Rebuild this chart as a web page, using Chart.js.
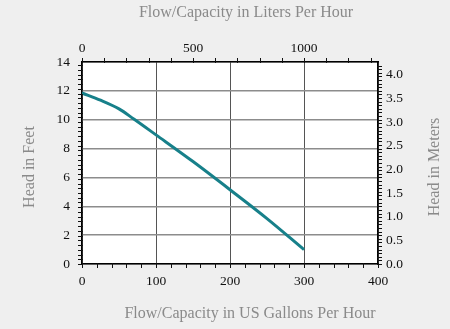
<!DOCTYPE html>
<html>
<head>
<meta charset="utf-8">
<script src="https://cdn.jsdelivr.net/npm/chart.js@4"></script>
<style>
    html, body { margin: 0; padding: 0; background: #efefef; }
    #wrap { width: 450px; height: 329px; position: relative; }
</style>
</head>
<body>
<div id="wrap"><canvas id="pumpChart"></canvas></div>
<script>
// Pump curve: head vs. flow
const flowGph = [0, 25, 50, 70, 100, 150, 200, 250, 300];
const headFeet = [11.85, 11.35, 10.75, 10.05, 8.95, 7.1, 5.15, 3.15, 1.0];

// Axis tick labels
const gphTicks = [0, 100, 200, 300, 400];
const lphTicks = [0, 500, 1000];
const feetTicks = [0, 2, 4, 6, 8, 10, 12, 14];
const meterTicks = [0, 0.5, 1, 1.5, 2, 2.5, 3, 3.5, 4];

const FT_TO_M = 0.3048;
const LPH_MAX = 400 * 1000 / 300;

const serif = "'Liberation Serif', 'Times New Roman', serif";

// White plot background
const plotBackground = {
    id: 'plotBackground',
    beforeDraw(chart) {
        const { ctx, chartArea: a } = chart;
        ctx.save();
        ctx.fillStyle = '#ffffff';
        ctx.fillRect(a.left, a.top, a.right - a.left, a.bottom - a.top);
        ctx.restore();
    }
};

// Small tick marks crossing each axis line
const minorTicks = {
    id: 'minorTicks',
    afterDraw(chart) {
        const { ctx, chartArea: a, scales } = chart;
        const specs = [
            { id: 'x', max: 400, step: 20, edge: a.bottom, dir: 1 },
            { id: 'x2', max: 1300, step: 100, edge: a.top, dir: -1 },
            { id: 'y', max: 14, step: 0.1 / FT_TO_M, edge: a.left, dir: -1 },
            { id: 'y2', max: 4.25, step: 0.25 * FT_TO_M, edge: a.right, dir: 1 }
        ];
        ctx.save();
        ctx.strokeStyle = '#111';
        ctx.lineWidth = 1;
        ctx.beginPath();
        specs.forEach(s => {
            const scale = scales[s.id];
            for (let v = 0; v <= s.max + 1e-6; v += s.step) {
                const p = Math.round(scale.getPixelForValue(v)) + 0.5;
                if (scale.isHorizontal()) {
                    ctx.moveTo(p, s.edge - s.dir);
                    ctx.lineTo(p, s.edge + s.dir * 4);
                } else {
                    ctx.moveTo(s.edge - s.dir, p);
                    ctx.lineTo(s.edge + s.dir * 4, p);
                }
            }
        });
        ctx.stroke();
        ctx.restore();
    }
};

// Axis titles
const axisTitles = {
    id: 'axisTitles',
    afterDraw(chart) {
        const { ctx, chartArea: a } = chart;
        const cx = (a.left + a.right) / 2 + 18;
        const cy = (a.top + a.bottom) / 2 + 4;
        const label = (text, x, y, rot) => {
            ctx.save();
            ctx.fillStyle = '#8a8a8a';
            ctx.font = '16px ' + serif;
            ctx.textAlign = 'center';
            ctx.textBaseline = 'middle';
            ctx.translate(x, y);
            ctx.rotate(rot);
            ctx.fillText(text, 0, 0);
            ctx.restore();
        };
        label('Flow/Capacity in Liters Per Hour', cx - 2, 13, 0);
        label('Flow/Capacity in US Gallons Per Hour', cx + 2, 314, 0);
        label('Head in Feet', 30, cy, -Math.PI / 2);
        label('Head in Meters', 435, cy, -Math.PI / 2);
    }
};

const tickFont = { family: serif, size: 13.5 };
const fixedTicks = list => scale => { scale.ticks = list.map(v => ({ value: v })); };

new Chart(document.getElementById('pumpChart'), {
    type: 'line',
    data: {
        datasets: [{
            data: flowGph.map((x, i) => ({ x: x, y: headFeet[i] })),
            borderColor: '#17808a',
            borderWidth: 3,
            pointRadius: 0,
            cubicInterpolationMode: 'monotone',
            fill: false
        }]
    },
    options: {
        responsive: true,
        maintainAspectRatio: false,
        animation: false,
        layout: { padding: 0 },
        plugins: {
            legend: { display: false },
            tooltip: { enabled: false }
        },
        scales: {
            x: {
                type: 'linear',
                position: 'bottom',
                min: 0,
                max: 400,
                afterBuildTicks: fixedTicks(gphTicks),
                afterFit: s => { s.height = 65; },
                ticks: { font: tickFont, color: '#111', padding: 9, maxRotation: 0, callback: v => String(v) },
                grid: { color: '#555', lineWidth: 1, drawTicks: false },
                border: { color: '#000', width: 1.5 }
            },
            x2: {
                type: 'linear',
                position: 'top',
                min: 0,
                max: LPH_MAX,
                afterBuildTicks: fixedTicks(lphTicks),
                afterFit: s => { s.height = 62; },
                ticks: { font: tickFont, color: '#111', padding: 5, maxRotation: 0, callback: v => String(v) },
                grid: { drawOnChartArea: false, drawTicks: false },
                border: { color: '#000', width: 1.5 }
            },
            y: {
                type: 'linear',
                position: 'left',
                min: 0,
                max: 14,
                afterBuildTicks: fixedTicks(feetTicks),
                afterFit: s => { s.width = 82; },
                ticks: { font: tickFont, color: '#111', padding: 12, callback: v => String(v) },
                grid: { color: '#8c8c8c', lineWidth: 1.5, drawTicks: false },
                border: { color: '#000', width: 1.5 }
            },
            y2: {
                type: 'linear',
                position: 'right',
                min: 0,
                max: 14 * FT_TO_M,
                afterBuildTicks: fixedTicks(meterTicks),
                afterFit: s => { s.width = 72; },
                ticks: { font: tickFont, color: '#111', padding: 8, callback: v => v.toFixed(1) },
                grid: { drawOnChartArea: false, drawTicks: false },
                border: { color: '#000', width: 1.5 }
            }
        }
    },
    plugins: [plotBackground, minorTicks, axisTitles]
});
</script>
</body>
</html>
